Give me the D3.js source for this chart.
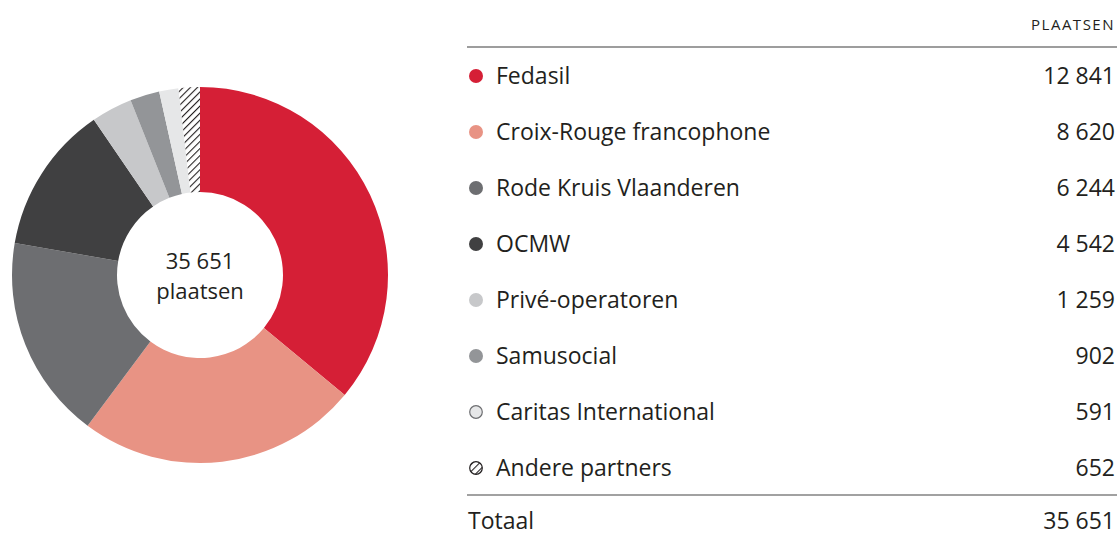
<!DOCTYPE html>
<html>
<head>
<meta charset="utf-8">
<script src="https://cdn.jsdelivr.net/npm/d3@7"></script>
<style>
  body { margin: 0; background: #fff; }
  svg { display: block; font-family: "Open Sans", Lato, sans-serif; }
</style>
</head>
<body>
<svg id="chart"></svg>
<script>
// partners and their number of places
const partners = ["Fedasil", "Croix-Rouge francophone", "Rode Kruis Vlaanderen", "OCMW",
    "Privé-operatoren", "Samusocial", "Caritas International", "Andere partners"];
const places = [12841, 8620, 6244, 4542, 1259, 902, 591, 652];
const colors = ["#d51f36", "#e89384", "#6d6e71", "#404041", "#c7c8ca", "#939598", "#e6e7e8", "url(#hatch)"];
const totalLabel = "35 651";
const unitLabel = "plaatsen";
const columnHeader = "PLAATSEN";
const totalRowLabel = "Totaal";

const width = 1120, height = 535;
const fmt = v => d3.format(",")(v).replace(/,/g, " ");

const svg = d3.select("#chart").attr("width", width).attr("height", height);

// hatch pattern for "Andere partners"
const defs = svg.append("defs");
const pat = defs.append("pattern")
    .attr("id", "hatch")
    .attr("patternUnits", "userSpaceOnUse")
    .attr("width", 5).attr("height", 5)
    .attr("patternTransform", "rotate(45)");
pat.append("rect").attr("width", 5).attr("height", 5).attr("fill", "#fff");
pat.append("line").attr("x1", 0).attr("y1", 0).attr("x2", 0).attr("y2", 5)
    .attr("stroke", "#231f20").attr("stroke-width", 2.2);

// donut
const cx = 200, cy = 275, outerR = 188, innerR = 83;
const pie = d3.pie().sort(null).value(d => d);
const arc = d3.arc().innerRadius(innerR).outerRadius(outerR);

const g = svg.append("g").attr("transform", `translate(${cx},${cy})`);
g.selectAll("path")
    .data(pie(places))
    .join("path")
    .attr("d", arc)
    .attr("fill", (d, i) => colors[i]);

g.append("text")
    .attr("text-anchor", "middle")
    .attr("y", -6)
    .attr("font-size", 22)
    .attr("fill", "#231f20")
    .text(totalLabel);
g.append("text")
    .attr("text-anchor", "middle")
    .attr("y", 24)
    .attr("font-size", 22)
    .attr("fill", "#231f20")
    .text(unitLabel);

// table / legend
const tableLeft = 467, tableRight = 1117;
const y = d3.scalePoint()
    .domain(partners)
    .range([76, 468]);

svg.append("text")
    .attr("x", 1115).attr("y", 30)
    .attr("text-anchor", "end")
    .attr("font-size", 15)
    .attr("letter-spacing", 1.5)
    .attr("fill", "#231f20")
    .text(columnHeader);

svg.append("line")
    .attr("x1", tableLeft).attr("x2", tableRight)
    .attr("y1", 47).attr("y2", 47)
    .attr("stroke", "#9d9d9d").attr("stroke-width", 2);

const rows = svg.append("g").selectAll("g")
    .data(partners)
    .join("g")
    .attr("transform", d => `translate(0,${y(d)})`);

rows.append("circle")
    .attr("cx", 476).attr("cy", 0).attr("r", (d, i) => i >= 6 ? 6.3 : 7)
    .attr("fill", (d, i) => colors[i])
    .attr("stroke", (d, i) => i === 6 ? "#6d6e71" : (i === 7 ? "#231f20" : "none"))
    .attr("stroke-width", 1.2);

rows.append("text")
    .attr("x", 496).attr("y", 8)
    .attr("font-size", 23)
    .attr("fill", "#231f20")
    .text(d => d);

rows.append("text")
    .attr("x", 1115).attr("y", 8)
    .attr("text-anchor", "end")
    .attr("font-size", 23)
    .attr("fill", "#231f20")
    .text((d, i) => fmt(places[i]));

svg.append("line")
    .attr("x1", tableLeft).attr("x2", tableRight)
    .attr("y1", 495).attr("y2", 495)
    .attr("stroke", "#444").attr("stroke-width", 1.2);

svg.append("text")
    .attr("x", 468).attr("y", 529)
    .attr("font-size", 23)
    .attr("fill", "#231f20")
    .text(totalRowLabel);

svg.append("text")
    .attr("x", 1115).attr("y", 529)
    .attr("text-anchor", "end")
    .attr("font-size", 23)
    .attr("fill", "#231f20")
    .text(fmt(d3.sum(places)));
</script>
</body>
</html>
